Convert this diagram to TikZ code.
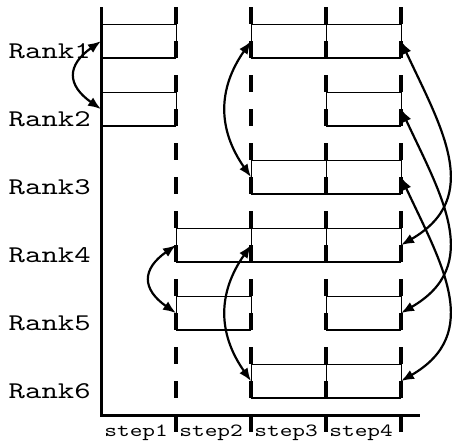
\documentclass[tikz,border=0pt]{standalone}
\usepackage{fontspec}
\setmonofont{lmmono10-regular.otf}[FakeStretch=1.3]
\usetikzlibrary{arrows.meta}

\begin{document}
\begin{tikzpicture}[x=37.5pt,y=17pt,
    rank/.style={font=\ttfamily\fontsize{12}{14}\selectfont,anchor=base east,inner sep=0pt},
    steplabel/.style={font=\ttfamily\fontsize{9.3}{11}\selectfont,anchor=base west,inner sep=0pt},
    cell/.style={line width=0.4pt,xstep=37.5pt,ystep=17pt},
    floor/.style={line width=0.9pt},
    slot/.style={line width=1.7pt,dash pattern=on 8.5pt off 8.5pt},
    swap/.style={{Latex[length=6.5pt,width=5pt]}-{Latex[length=6.5pt,width=5pt]},line width=1.1pt}]
   \useasboundingbox (-1.347,-1.265) rectangle (4.68,11.71);

   % cells of each rank, rank 1 on top
   \draw[cell] (0,10) grid (1,11);
   \draw[cell] (2,10) grid (4,11);
   \draw[cell] (0,8) grid (1,9);
   \draw[cell] (3,8) grid (4,9);
   \draw[cell] (2,6) grid (4,7);
   \draw[cell] (1,4) grid (4,5);
   \draw[cell] (1,2) grid (2,3);
   \draw[cell] (3,2) grid (4,3);
   \draw[cell] (2,0) grid (4,1);

   \draw[floor] (0,10) -- (1,10);
   \draw[floor] (2,10) -- (4,10);
   \draw[floor] (0,8) -- (1,8);
   \draw[floor] (3,8) -- (4,8);
   \draw[floor] (2,6) -- (4,6);
   \draw[floor] (1,4) -- (4,4);
   \draw[floor] (1,2) -- (2,2);
   \draw[floor] (3,2) -- (4,2);
   \draw[floor] (2,0) -- (4,0);

   % step boundaries
   \foreach \c in {1,...,4}
      \draw[slot] (\c,11.5) -- (\c,-1);

   % axes
   \draw[line width=1.5pt] (0,11.5) -- (0,-0.5) -- (4.25,-0.5);

   \node[rank] (rank1) at (-0.133,10) {Rank1};
   \node[rank] (rank2) at (-0.133,8) {Rank2};
   \node[rank] (rank3) at (-0.133,6) {Rank3};
   \node[rank] (rank4) at (-0.133,4) {Rank4};
   \node[rank] (rank5) at (-0.133,2) {Rank5};
   \node[rank] (rank6) at (-0.133,0) {Rank6};

   \node[steplabel] (step1) at (0.04,-1.12) {step1};
   \node[steplabel] (step2) at (1.04,-1.12) {step2};
   \node[steplabel] (step3) at (2.04,-1.12) {step3};
   \node[steplabel] (step4) at (3.04,-1.12) {step4};

   % middle of rank k on boundary c
   \foreach \k in {1,...,6}
      \foreach \c in {0,...,4}
         \coordinate (m\k\c) at (\c,{2*(6-\k)+0.5});

   % exchanges
   \draw[swap] (m10) to[out=215,in=145,looseness=1.58] (m20);
   \draw[swap] (m41) to[out=215,in=145,looseness=1.58] (m51);
   \draw[swap] (m12) to[out=235,in=125,looseness=1.1] (m32);
   \draw[swap] (m42) to[out=235,in=125,looseness=1.1] (m62);
   \draw[swap] (m14) to[out=-65,in=30,looseness=1.2] (m44);
   \draw[swap] (m24) to[out=-65,in=30,looseness=1.2] (m54);
   \draw[swap] (m34) to[out=-65,in=30,looseness=1.2] (m64);
\end{tikzpicture}
\end{document}
